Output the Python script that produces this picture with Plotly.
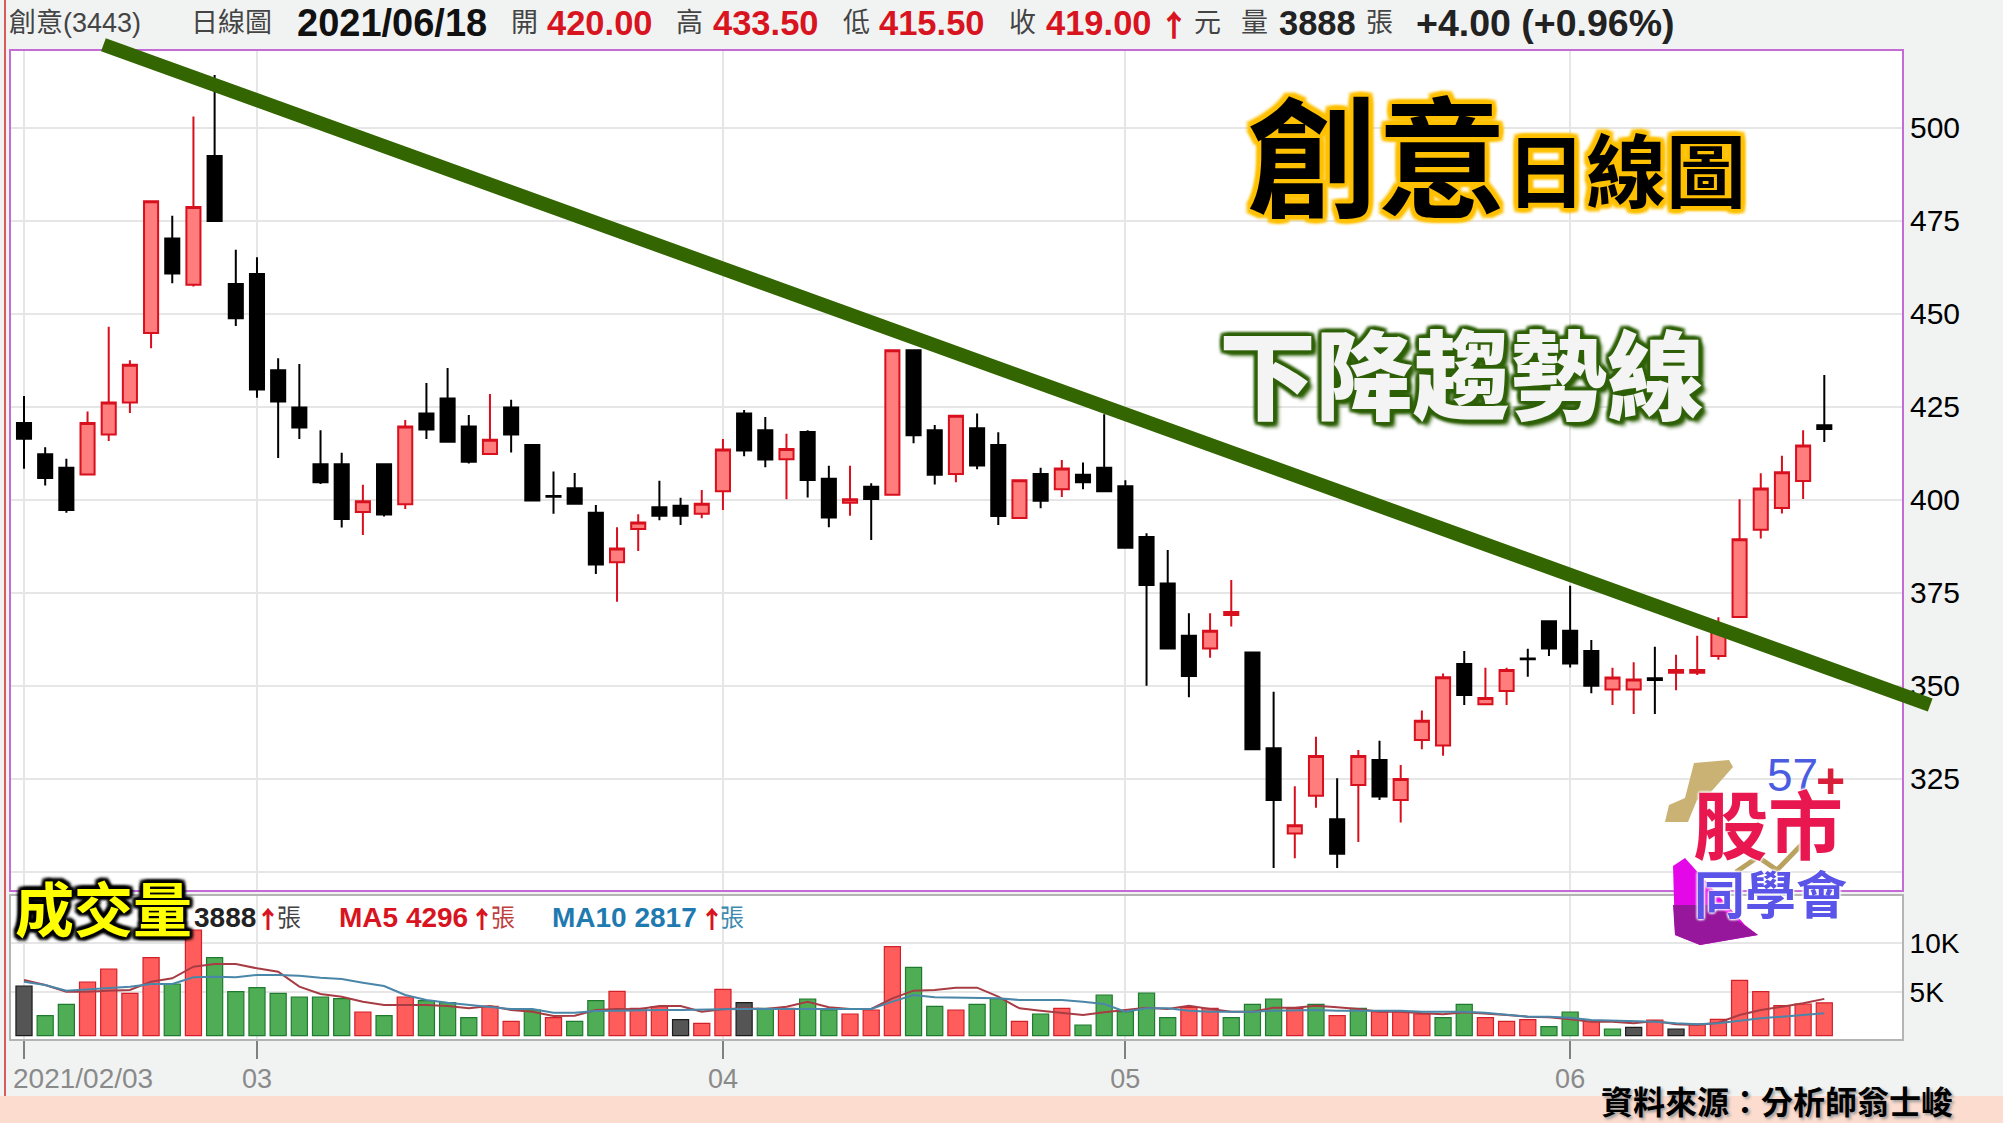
# plot.py - 創意(3443) 日線圖 K線 + 成交量

import plotly.graph_objects as go
from plotly.subplots import make_subplots

# --- 1. 資料 ---
tick_index = [0, 11, 33, 52, 73]
tick_labels = ['', '03', '04', '05', '06']
price_ticks = [300, 325, 350, 375, 400, 425, 450, 475, 500]
price_tick_labels = ['', '325', '350', '375', '400', '425', '450', '475', '500']
volume_ticks = [5000, 10000]
volume_tick_labels = ['5K', '10K']

opens = [420.6, 412.2, 408.6, 406.8, 417.5, 426.1, 444.8, 470.2, 457.8, 492.4,
         458, 460.7, 434.8, 424.8, 409.5, 409.5, 396.7, 409.5, 398.8, 423.2,
         427.2, 419.7, 412.3, 424.8, 414.7, 401, 403.1, 396.5, 383.2, 392.1,
         398, 398.4, 396.2, 402.3, 423.2, 418.7, 410.9, 418.2, 405.6, 399.2,
         403.5, 401.3, 440.2, 418.7, 406.9, 419.2, 414.7, 395.1, 406.9, 402.8,
         406.7, 408.6, 403.6, 390, 377.5, 363.4, 360, 369, 358.9, 333.2,
         310.3, 320.4, 314.1, 323.3, 330, 319.3, 335.4, 333.9, 355.8, 345,
         348.6, 357.3, 367.3, 364.8, 359.3, 349, 349, 352, 353.5, 353.5,
         358, 368.5, 391.9, 397.8, 405, 420]
highs = [427.9, 414.1, 411, 423.7, 446.5, 437.5, 480.2, 476.3, 503, 514.2,
         467.2, 465.2, 438, 436.5, 418.7, 412.6, 404, 409.5, 421.4, 431.4,
         435.4, 422.8, 428.4, 426.9, 414.7, 407.6, 407.2, 398.6, 392.6, 396.1,
         405.1, 400.5, 402.6, 416.3, 424.1, 422.2, 417.7, 418.7, 409.1, 409.1,
         404.4, 440.2, 440.2, 420.1, 422.6, 423.2, 418.1, 405.2, 408.6, 410.7,
         410, 423, 405.2, 391, 386.5, 369.5, 369.5, 378.4, 358.9, 348.4,
         323, 336.3, 325.1, 332.7, 335.2, 328.7, 343.3, 353.3, 359.3, 354.8,
         354.8, 359.9, 367.3, 376.9, 362.3, 354.8, 356.3, 360.5, 358.3, 363.4,
         368.4, 400.1, 407.1, 411.8, 418.7, 433.5]
lows = [408.3, 403.8, 396.5, 406.8, 415.8, 423.3, 440.7, 458.2, 457.3, 474.9,
        446.7, 427.4, 411.2, 416.3, 404.2, 392.5, 390.5, 395.5, 397.5, 416.3,
        415.3, 409.7, 412.3, 412.7, 399.8, 396.2, 398.7, 380, 372.6, 386.2,
        394.5, 393.2, 395, 397.2, 411.7, 408.7, 400.1, 400.6, 392.6, 395.7,
        389.2, 401.3, 415.2, 404.1, 404.7, 408.2, 393.2, 395.1, 397.7, 400.7,
        402.8, 402.3, 387.1, 350, 360, 346.9, 357.5, 365.9, 332.9, 301,
        303.6, 317.2, 301, 308, 319.3, 313.2, 332.9, 331.2, 344.8, 345,
        344.8, 352.4, 358, 354.9, 348, 344.8, 342.4, 342.4, 348.8, 352.9,
        357, 368.5, 389.6, 396.3, 400.2, 415.5]
closes = [416.4, 405.8, 397.2, 420.6, 426.1, 436.3, 480.2, 460.8, 478.7, 474.9,
          448.8, 429.6, 426.4, 419.4, 404.7, 394.8, 399.6, 396, 419.7, 418.9,
          415.6, 410.2, 416.1, 417.5, 399.8, 400.8, 398.9, 382.6, 386.9, 393.9,
          395.7, 395.7, 398.9, 413.5, 413.2, 410.8, 413.6, 405.3, 395.2, 400.1,
          400.2, 440.2, 417.3, 406.7, 422.6, 409.2, 395.6, 405.2, 399.7, 408.4,
          404.7, 402.3, 387.1, 377.1, 360, 352.6, 364.8, 369.8, 332.9, 319.3,
          312.5, 331.1, 304.8, 331.1, 320.2, 324.9, 340.6, 352.3, 347.5, 346.7,
          354.2, 357.1, 360, 356, 350, 352.2, 351.7, 351.5, 354.2, 354.2,
          366.3, 389.4, 403, 407.4, 414.6, 419]

volumes = [5617, 2569, 3733, 6028, 7364, 4864, 8528, 5823, 11371, 8528,
           5035, 5446, 4864, 4487, 4487, 4316, 2946, 2569, 4487, 4110,
           3905, 2363, 3528, 1987, 3151, 2363, 1987, 4110, 5069, 3322,
           3494, 2158, 1781, 5275, 3905, 3322, 3322, 4281, 3151, 2740,
           3151, 9659, 7535, 3528, 3151, 3733, 4316, 1987, 2740, 3322,
           1610, 4692, 2980, 4898, 2363, 3425, 3322, 2363, 3733, 4281,
           3322, 3733, 2569, 3322, 2980, 2980, 2740, 2363, 3733, 2363,
           1987, 2158, 1439, 2946, 1987, 1199, 1370, 2124, 1199, 1713,
           2192, 6199, 5035, 3596, 3768, 3888]
# r 上漲 / g 下跌 / k 平盤
volume_dirs = list('kggrrrrgrgggggggrgrgggrrgrggrrrkrrkgrggrrrggrggrgrgggggrrgggrgrgrrrggrrrggrgkrkrrrrrrr')

ma5 = [6234, 5720, 5035, 5035, 5138, 5206, 6062, 6405, 7604, 7878,
       7878, 7433, 7090, 5549, 4795, 4521, 4007, 3665, 3665, 3665,
       3562, 3322, 3562, 3151, 2980, 2534, 2569, 3151, 3254, 3219,
       3562, 3562, 2980, 3219, 3322, 3254, 3494, 4007, 3425, 3254,
       3254, 4350, 5138, 5206, 5446, 5446, 4521, 3322, 3083, 2877,
       2637, 2911, 3151, 3391, 3254, 3596, 3254, 2980, 2980, 3391,
       3391, 3596, 3425, 3254, 2980, 2980, 2809, 2706, 2911, 2809,
       2637, 2466, 2398, 2192, 1952, 1952, 1781, 2021, 1678, 1610,
       1850, 2637, 3151, 3494, 3836, 4296]
ma10 = [6062, 5720, 5138, 5275, 5377, 5549, 5823, 5823, 6508, 6576,
        6508, 6747, 6747, 6679, 6473, 6336, 5960, 5617, 4692, 4179,
        3905, 3665, 3494, 3254, 3254, 2877, 2877, 3048, 3083, 3151,
        3151, 3151, 3151, 3220, 3254, 3254, 3322, 3322, 3322, 3254,
        3254, 4007, 4692, 4453, 4418, 4418, 4350, 4179, 4179, 4179,
        4007, 3768, 2980, 3322, 3322, 3083, 2980, 2980, 2980, 3083,
        3151, 3151, 3083, 3083, 3083, 3083, 2980, 2980, 2980, 2877,
        2637, 2466, 2466, 2363, 2124, 2055, 2021, 1952, 1781, 1678,
        1781, 2055, 2295, 2466, 2637, 2817]

# 下降趨勢線兩端 (第幾根K線, 價位)
trend_x = [3.75, 90.0]
trend_y = [522.3, 344.8]

# --- 2. 版面 ---
W, H = 2003, 1123
CJK = 'Noto Sans CJK TC'
SANS = f'Liberation Sans, {CJK}'
vol_base = 514

x_index = list(range(len(closes)))
bar_colors = {'r': '#ff5c5c', 'g': '#4fae55', 'k': '#555555'}
bar_edges = {'r': '#d2202a', 'g': '#1f7a30', 'k': '#1c1c1c'}


def x_to_idx(px):
    return (px - 24) / 21.18


def y_to_price(py):
    return 500 - (py - 127.7) / 3.72


def label(text, x, y, size, color='#111', anchor='left', weight=400, family=SANS, shadow=None):
    return dict(text=text, x=x / W, y=1 - y / H, xref='paper', yref='paper',
                xanchor=anchor, yanchor='middle', showarrow=False, borderpad=0,
                font=dict(size=size, color=color, family=family, weight=weight,
                          shadow=shadow or 'none'))


def poly(points, fill):
    path = 'M' + ' L'.join(f'{x / W:.5f},{1 - y / H:.5f}' for x, y in points) + ' Z'
    return dict(type='path', path=path, xref='paper', yref='paper', fillcolor=fill,
                line=dict(width=0), layer='above')


def white_box(x0, x1, y0, y1):
    return dict(type='rect', xref='paper', yref='paper', x0=x0 / W, x1=x1 / W,
                y0=1 - y1 / H, y1=1 - y0 / H, fillcolor='#ffffff', line=dict(width=0), layer='below')


def outline(color, r, blur):
    dirs = [(r, 0), (-r, 0), (0, r), (0, -r), (r, r), (-r, r), (r, -r), (-r, -r)]
    return ', '.join(f'{dx}px {dy}px {blur}px {color}' for dx, dy in dirs)


fig = make_subplots(rows=2, cols=1, shared_xaxes=False)

fig.add_trace(go.Candlestick(
    x=x_index, open=opens, high=highs, low=lows, close=closes,
    whiskerwidth=0,
    increasing=dict(line=dict(color='#d80f1c', width=2), fillcolor='#ff7d7d'),
    decreasing=dict(line=dict(color='#000000', width=2), fillcolor='#000000'),
    showlegend=False), row=1, col=1)

fig.add_trace(go.Bar(
    x=x_index, y=[v - vol_base for v in volumes], base=vol_base, width=0.76,
    marker=dict(color=[bar_colors[d] for d in volume_dirs],
                line=dict(color=[bar_edges[d] for d in volume_dirs], width=1.2)),
    showlegend=False), row=2, col=1)
fig.add_trace(go.Scatter(x=x_index, y=ma5, mode='lines', showlegend=False,
                         line=dict(color='#a83c44', width=2)), row=2, col=1)
fig.add_trace(go.Scatter(x=x_index, y=ma10, mode='lines', showlegend=False,
                         line=dict(color='#4a86a8', width=2)), row=2, col=1)

# 趨勢線畫出框外, 所以放在覆蓋整張圖的第三組座標軸上
fig.add_trace(go.Scatter(x=trend_x, y=trend_y, xaxis='x3', yaxis='y3', mode='lines',
                         showlegend=False, line=dict(color='#336600', width=14)))

x_range = [x_to_idx(11), x_to_idx(1902)]
grid = '#e6e6e6'
frame_pink = '#c56bd6'
frame_grey = '#b4b4b4'

fig.update_layout(
    width=W, height=H, autosize=False,
    margin=dict(l=0, r=0, t=0, b=0),
    paper_bgcolor='#f1f3f3', plot_bgcolor='rgba(0,0,0,0)',
    boxgap=0.05, bargap=0.24,
    xaxis=dict(domain=[11 / W, 1902 / W], range=x_range, rangeslider=dict(visible=False),
               tickmode='array', tickvals=tick_index, ticktext=[''] * 5, ticks='',
               showgrid=True, gridcolor=grid, gridwidth=1.5, zeroline=False,
               showline=True, linecolor=frame_pink, linewidth=2, mirror=True),
    yaxis=dict(domain=[1 - 890 / H, 1 - 51 / H], range=[y_to_price(890), y_to_price(51)],
               side='right', tickmode='array', tickvals=price_ticks, ticktext=price_tick_labels,
               tickfont=dict(size=30, color='#000000', family=SANS), ticks='',
               showgrid=True, gridcolor=grid, gridwidth=2, zeroline=False,
               showline=True, linecolor=frame_pink, linewidth=2, mirror=True),
    xaxis2=dict(domain=[11 / W, 1902 / W], range=x_range, anchor='y2',
                tickmode='array', tickvals=tick_index, ticktext=tick_labels,
                ticks='outside', ticklen=18, tickwidth=1.5, tickcolor='#808080',
                ticklabelstandoff=-3,
                tickfont=dict(size=27, color='#8a8a8a', family=SANS),
                showgrid=True, gridcolor=grid, gridwidth=1.5, zeroline=False,
                showline=True, linecolor=frame_grey, linewidth=2, mirror=True),
    yaxis2=dict(domain=[1 - 1039 / H, 1 - 896 / H], range=[171, 14865], anchor='x2',
                side='right', tickmode='array', tickvals=volume_ticks, ticktext=volume_tick_labels,
                tickfont=dict(size=28, color='#000000', family=SANS), ticks='',
                showgrid=True, gridcolor=grid, gridwidth=2, zeroline=False,
                showline=True, linecolor=frame_grey, linewidth=2, mirror=True),
    xaxis3=dict(domain=[0, 1], range=[x_to_idx(0), x_to_idx(W)], anchor='y3', visible=False),
    yaxis3=dict(domain=[0, 1], range=[y_to_price(H), y_to_price(0)], anchor='x3', visible=False),
)

# --- 3. 背景色塊與 logo ---
shapes = [
    white_box(11, 1902, 51, 890),
    white_box(11, 1902, 896, 1039),
    dict(type='rect', xref='paper', yref='paper', x0=0, x1=1, y0=0, y1=1 - 1096 / H,
         fillcolor='#fbdccf', line=dict(width=0), layer='below'),
    dict(type='line', xref='paper', yref='paper', x0=5 / W, x1=5 / W, y0=1 - 1096 / H, y1=1,
         line=dict(color='#d02a2a', width=1.5), layer='above'),
    poly([(1694, 763), (1729, 760), (1733, 767), (1710, 793), (1697, 800), (1688, 822),
          (1665, 822), (1669, 805), (1685, 798)], '#c9b273'),
    poly([(1673, 866), (1685, 858), (1745, 925), (1758, 935), (1700, 945), (1675, 935)], '#e408e8'),
    poly([(1673, 905), (1715, 905), (1758, 935), (1700, 945), (1675, 935)], '#96169c'),
    dict(type='path', xref='paper', yref='paper', layer='above',
         path='M' + ' L'.join(f'{x / W:.5f},{1 - y / H:.5f}' for x, y in
                              [(1736, 872), (1758, 857), (1777, 870), (1809, 837)]),
         line=dict(color='#b9a260', width=5)),
]
fig.update_layout(shapes=shapes)

# --- 4. 文字 ---
orange_glow = outline('#ffc000', 4, 3)
green_glow = outline('#2f6108', 3, 3) + ', 5px 5px 4px #2f6108'
black_glow = outline('#000000', 3, 3)
white_glow = ', '.join(['0 0 3px #ffffff'] * 4)

header = [
    ('創意(3443)', 8, 27, '#444', 400, SANS),
    ('日線圖', 190, 27, '#444', 400, SANS),
    ('2021/06/18', 296, 38, '#111', 700, SANS),
    ('開', 510, 27, '#444', 400, SANS),
    ('420.00', 546, 34.5, '#d81420', 700, SANS),
    ('高', 675, 27, '#444', 400, SANS),
    ('433.50', 712, 34.5, '#d81420', 700, SANS),
    ('低', 842, 27, '#444', 400, SANS),
    ('415.50', 878, 34.5, '#d81420', 700, SANS),
    ('收', 1008, 27, '#444', 400, SANS),
    ('419.00', 1045, 34.5, '#d81420', 700, SANS),
    ('↑', 1158, 30, '#d81420', 900, CJK),
    ('元', 1193, 27, '#444', 400, SANS),
    ('量', 1240, 27, '#444', 400, SANS),
    ('3888', 1278, 34.5, '#222', 700, SANS),
    ('張', 1365, 27, '#444', 400, SANS),
    ('+4.00 (+0.96%)', 1415, 37.5, '#222', 700, SANS),
]
annotations = [label(t, x, 23, s, c, weight=w, family=f) for t, x, s, c, w, f in header]

annotations += [
    label('2021/02/03', 12, 1078, 28, '#8a8a8a'),
    label('3888', 193, 917, 28, '#222', weight=700),
    label('↑', 255, 917, 24, '#d81420', weight=900, family=CJK),
    label('張', 276, 917, 24, '#444'),
    label('MA5 4296', 338, 917, 28, '#d81420', weight=700),
    label('↑', 469, 917, 24, '#d81420', weight=900, family=CJK),
    label('張', 490, 917, 24, '#c04040'),
    label('MA10 2817', 551, 917, 28, '#1f7ab0', weight=700),
    label('↑', 699, 917, 24, '#d81420', weight=900, family=CJK),
    label('張', 719, 917, 24, '#3f8ab0'),
    label('創意', 1246, 150, 130, '#000000', weight=700, family=CJK, shadow=orange_glow),
    label('日線圖', 1505, 166, 80, '#000000', weight=700, family=CJK, shadow=orange_glow),
    label('下降趨勢線', 1218, 369, 97, '#f4f4f4', weight=900, family=CJK, shadow=green_glow),
    label('成交量', 14, 906, 59, '#ffff00', weight=700, family=CJK, shadow=black_glow),
    label('資料來源：分析師翁士峻', 1600, 1100, 32, '#000000', weight=700, family=CJK,
          shadow='2px 2px 3px #999999'),
    label('57', 1766, 775, 46, '#4a5ce0'),
    label('+', 1815, 781, 50, '#d8203a', weight=700),
    label('股市', 1692, 821, 75, '#e8174f', weight=700, family=CJK, shadow=white_glow),
    label('同學會', 1693, 892, 51, '#5a55e8', weight=700, family=CJK, shadow=white_glow),
]
fig.update_layout(annotations=annotations)

# 取消瀏覽器預設的 body 邊距, 讓圖貼齊視窗
fig.write_html("out.html", config={'displayModeBar': False},
               post_script="document.body.style.margin='0';")
